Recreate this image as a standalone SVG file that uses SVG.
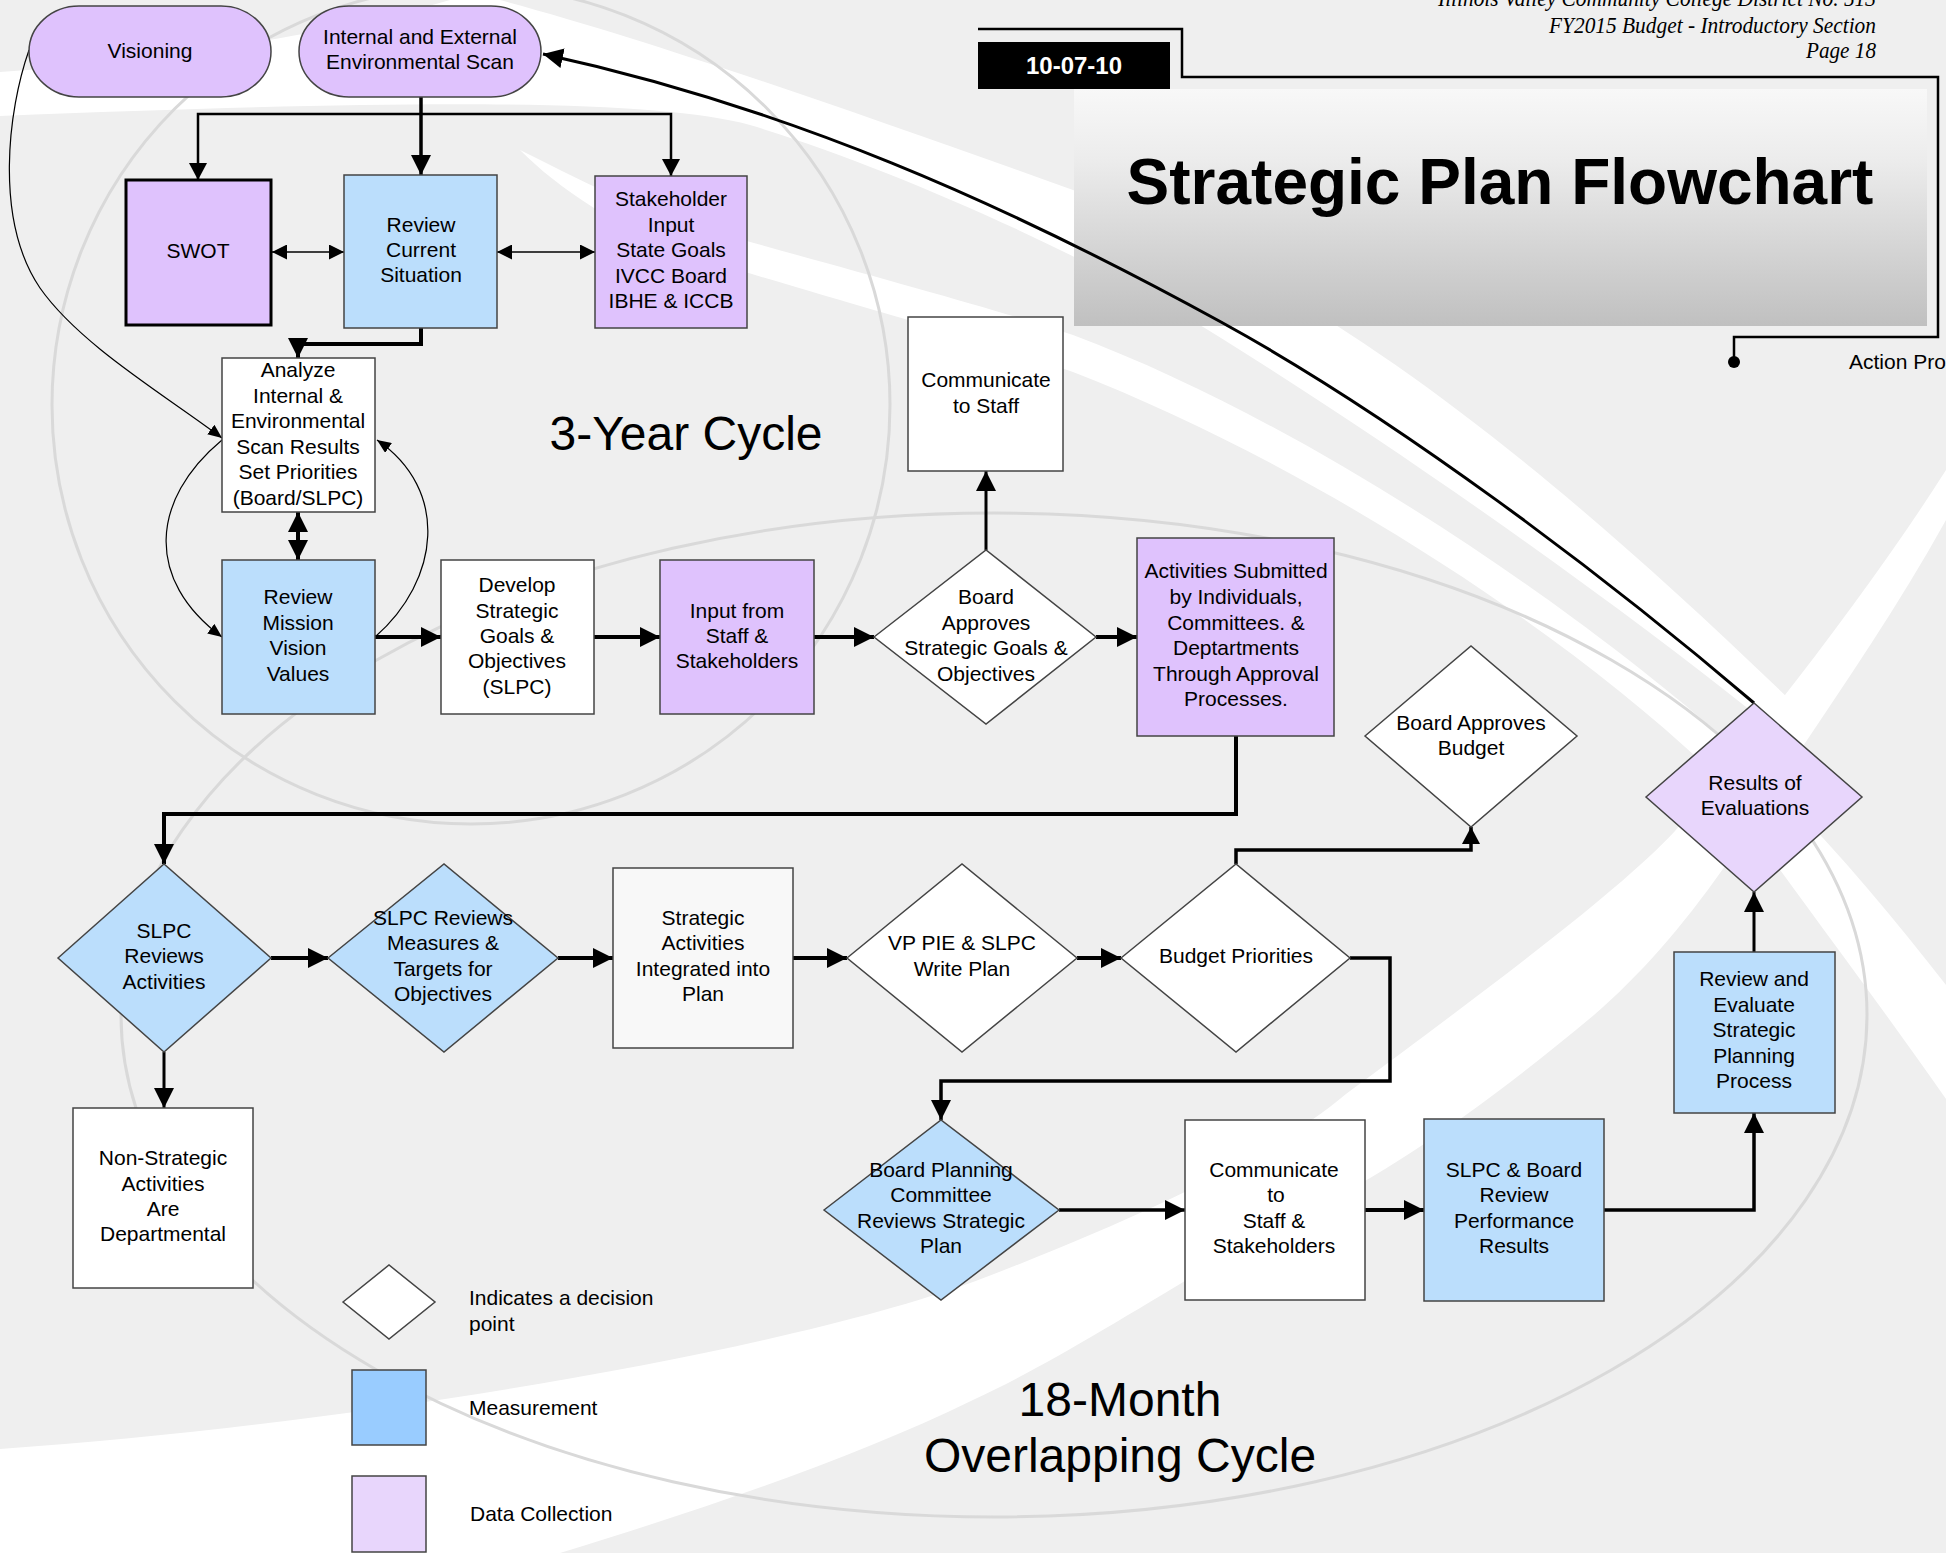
<svg xmlns="http://www.w3.org/2000/svg" width="1946" height="1553" viewBox="0 0 1946 1553">
<defs>
<style>
.t{font-family:"Liberation Sans",Arial,sans-serif;font-size:21px;text-anchor:middle;fill:#000}
.lg{font-family:"Liberation Sans",Arial,sans-serif;font-size:21px;fill:#000}
.big{font-family:"Liberation Sans",Arial,sans-serif;font-size:48px;text-anchor:middle;fill:#000}
.hdr{font-family:"Liberation Serif","Times New Roman",serif;font-style:italic;font-size:23px;text-anchor:end;fill:#000}
.box{stroke:#444;stroke-width:1.5}
.pur{fill:#dfc2fd}
.blu{fill:#bbdefc}
.wht{fill:#fff}
.lpur{fill:#e8d6fc}
.c{fill:none;stroke:#000;stroke-linejoin:miter}
.ring{fill:none;stroke:#d9d9d9;stroke-width:3}
</style>
<linearGradient id="tg" x1="0" y1="0" x2="0" y2="1">
<stop offset="0" stop-color="#f8f8f8"/>
<stop offset="0.3" stop-color="#ececec"/>
<stop offset="1" stop-color="#c0c0c0"/>
</linearGradient>
<marker id="aL" markerUnits="userSpaceOnUse" markerWidth="20" markerHeight="20" refX="20" refY="10" orient="auto-start-reverse"><path d="M0,0 L20,10 L0,20 z" fill="#000"/></marker>
<marker id="aM" markerUnits="userSpaceOnUse" markerWidth="17" markerHeight="18" refX="17" refY="9" orient="auto-start-reverse"><path d="M0,0 L17,9 L0,18 z" fill="#000"/></marker>
<marker id="aS" markerUnits="userSpaceOnUse" markerWidth="15" markerHeight="15" refX="15" refY="7.5" orient="auto-start-reverse"><path d="M0,0 L15,7.5 L0,15 z" fill="#000"/></marker>
<marker id="aC" markerUnits="userSpaceOnUse" markerWidth="14" markerHeight="12" refX="14" refY="6" orient="auto-start-reverse"><path d="M0,0 L14,6 L0,12 z" fill="#000"/></marker>
</defs>

<g id="background">
<rect x="0" y="0" width="1946" height="1553" fill="#efefef"/>
<path fill="#fff" d="M0,72 C150,62 330,35 450,0 L500,0 C650,40 850,110 1073,190 C1300,280 1500,420 1790,700 L1765,722 C1600,590 1400,450 1221,338 C1100,262 900,170 750,125 C650,98 400,100 0,116 Z"/>
<path fill="#fff" d="M520,150 C600,190 650,215 700,228 C850,270 1000,310 1073,335 C1300,420 1550,590 1705,722 C1800,805 1880,900 1946,985 L1946,1099 C1870,990 1800,900 1705,765 C1550,620 1300,460 1073,372 C950,330 800,290 700,258 C620,230 560,190 520,150 Z"/>
<path fill="#fff" d="M0,1449 C400,1420 800,1345 973,1282 C1150,1215 1280,1150 1346,1094 C1500,980 1620,890 1675,831 C1760,730 1870,590 1946,470 L1946,520 C1880,640 1790,760 1725,866 C1680,930 1640,975 1594,1015 C1480,1110 1380,1180 1283,1223 C1150,1300 1060,1360 973,1400 C850,1460 700,1510 560,1553 L0,1553 Z"/>
<circle class="ring" cx="471" cy="405" r="419"/>
<ellipse class="ring" cx="994" cy="1015" rx="873" ry="502"/>
</g>

<g id="header">
<text class="hdr" x="1876" y="6" textLength="438" lengthAdjust="spacingAndGlyphs">Illinois Valley Community College District No. 513</text>
<text class="hdr" x="1876" y="33" textLength="327" lengthAdjust="spacingAndGlyphs">FY2015 Budget - Introductory Section</text>
<text class="hdr" x="1876" y="58" textLength="70" lengthAdjust="spacingAndGlyphs">Page 18</text>
<path d="M978,29 H1182 V77 H1938 V337 H1734 V362" fill="none" stroke="#000" stroke-width="2.5"/>
<circle cx="1734" cy="362" r="6" fill="#000"/>
<rect x="978" y="42" width="192" height="47" fill="#000"/>
<text x="1074" y="74" font-family="Liberation Sans,Arial,sans-serif" font-weight="bold" font-size="24" text-anchor="middle" fill="#fff">10-07-10</text>
<rect x="1074" y="89" width="853" height="237" fill="url(#tg)"/>
<text x="1500" y="204" font-family="Liberation Sans,Arial,sans-serif" font-weight="bold" font-size="64" text-anchor="middle" fill="#000">Strategic Plan Flowchart</text>
<text class="lg" x="1849" y="369">Action Pro</text>
</g>

<g id="labels">
<text class="big" x="686" y="450">3-Year Cycle</text>
<text class="big" x="1120" y="1416">18-Month</text>
<text class="big" x="1120" y="1472">Overlapping Cycle</text>
</g>

<g id="connectors">
<path class="c" stroke-width="3.5" d="M421,97 V175" marker-end="url(#aL)"/>
<path class="c" stroke-width="2.5" d="M198,180 V114 H671 V176" marker-start="url(#aM)" marker-end="url(#aM)"/>
<path class="c" stroke-width="1.5" d="M272,252 H344" marker-start="url(#aS)" marker-end="url(#aS)"/>
<path class="c" stroke-width="1.5" d="M497,252 H595" marker-start="url(#aS)" marker-end="url(#aS)"/>
<path class="c" stroke-width="4" d="M421,328 V344 H298 V358" marker-end="url(#aL)"/>
<path class="c" stroke-width="4" d="M298,512 V560" marker-start="url(#aL)" marker-end="url(#aL)"/>
<path class="c" stroke-width="1.2" d="M29,50 C8,110 -6,220 40,288 C80,345 165,395 222,438" marker-end="url(#aC)"/>
<path class="c" stroke-width="1.2" d="M222,440 C150,500 145,580 222,637" marker-end="url(#aC)"/>
<path class="c" stroke-width="1.2" d="M375,637 C440,580 450,490 377,440" marker-end="url(#aC)"/>
<path class="c" stroke-width="4" d="M375,637 H441" marker-end="url(#aL)"/>
<path class="c" stroke-width="4" d="M594,637 H660" marker-end="url(#aL)"/>
<path class="c" stroke-width="4" d="M814,637 H874" marker-end="url(#aL)"/>
<path class="c" stroke-width="4" d="M1096,637 H1137" marker-end="url(#aL)"/>
<path class="c" stroke-width="3" d="M986,550 V471" marker-end="url(#aL)"/>
<path class="c" stroke-width="4" d="M1236,736 V814 H164 V864" marker-end="url(#aL)"/>
<path class="c" stroke-width="4" d="M271,958 H328" marker-end="url(#aL)"/>
<path class="c" stroke-width="4" d="M558,958 H613" marker-end="url(#aL)"/>
<path class="c" stroke-width="4" d="M793,958 H847" marker-end="url(#aL)"/>
<path class="c" stroke-width="4" d="M1077,958 H1121" marker-end="url(#aL)"/>
<path class="c" stroke-width="3" d="M164,1052 V1108" marker-end="url(#aL)"/>
<path class="c" stroke-width="3.5" d="M1236,864 V850 H1471 V827" marker-end="url(#aM)"/>
<path class="c" stroke-width="3.5" d="M1350,958 H1390 V1081 H941 V1120" marker-end="url(#aL)"/>
<path class="c" stroke-width="3.5" d="M1059,1210 H1185" marker-end="url(#aL)"/>
<path class="c" stroke-width="4" d="M1365,1210 H1424" marker-end="url(#aL)"/>
<path class="c" stroke-width="3.5" d="M1604,1210 H1754 V1113" marker-end="url(#aL)"/>
<path class="c" stroke-width="3" d="M1754,952 V892" marker-end="url(#aL)"/>
<path class="c" stroke-width="3" d="M1754,703 C1603,574 1396,418 1221,322 C1002,202 787,107 543,54" marker-end="url(#aL)"/>
</g>

<g id="n_vis"><rect class="box pur" x="29" y="6" width="242" height="91" rx="50" ry="45.5"/><text class="t" x="150" y="58">Visioning</text></g>
<g id="n_scan"><rect class="box pur" x="299" y="6" width="242" height="91" rx="50" ry="45.5"/><text class="t" x="420" y="44">Internal and External</text><text class="t" x="420" y="69">Environmental Scan</text></g>
<g id="n_swot"><rect class="pur" x="126" y="180" width="145" height="145" stroke="#000" stroke-width="3"/><text class="t" x="198" y="258">SWOT</text></g>
<g id="n_rcs"><rect class="box blu" x="344" y="175" width="153" height="153"/><text class="t" x="421" y="232">Review</text><text class="t" x="421" y="257">Current</text><text class="t" x="421" y="282">Situation</text></g>
<g id="n_stake"><rect class="box pur" x="595" y="176" width="152" height="152"/><text class="t" x="671" y="206">Stakeholder</text><text class="t" x="671" y="232">Input</text><text class="t" x="671" y="257">State Goals</text><text class="t" x="671" y="283">IVCC Board</text><text class="t" x="671" y="308">IBHE &amp; ICCB</text></g>
<g id="n_analyze"><rect class="box wht" x="222" y="358" width="153" height="154"/><text class="t" x="298" y="377">Analyze</text><text class="t" x="298" y="403">Internal &amp;</text><text class="t" x="298" y="428">Environmental</text><text class="t" x="298" y="454">Scan Results</text><text class="t" x="298" y="479">Set Priorities</text><text class="t" x="298" y="505">(Board/SLPC)</text></g>
<g id="n_rmvv"><rect class="box blu" x="222" y="560" width="153" height="154"/><text class="t" x="298" y="604">Review</text><text class="t" x="298" y="630">Mission</text><text class="t" x="298" y="655">Vision</text><text class="t" x="298" y="681">Values</text></g>
<g id="n_develop"><rect class="box wht" x="441" y="560" width="153" height="154"/><text class="t" x="517" y="592">Develop</text><text class="t" x="517" y="618">Strategic</text><text class="t" x="517" y="643">Goals &amp;</text><text class="t" x="517" y="668">Objectives</text><text class="t" x="517" y="694">(SLPC)</text></g>
<g id="n_input"><rect class="box pur" x="660" y="560" width="154" height="154"/><text class="t" x="737" y="618">Input from</text><text class="t" x="737" y="643">Staff &amp;</text><text class="t" x="737" y="668">Stakeholders</text></g>
<g id="n_board"><polygon class="box wht" points="874,637 986,550 1096,637 986,724"/><text class="t" x="986" y="604">Board</text><text class="t" x="986" y="630">Approves</text><text class="t" x="986" y="655">Strategic Goals &amp;</text><text class="t" x="986" y="681">Objectives</text></g>
<g id="n_comm1"><rect class="box wht" x="908" y="317" width="155" height="154"/><text class="t" x="986" y="387">Communicate</text><text class="t" x="986" y="413">to Staff</text></g>
<g id="n_acts"><rect class="box pur" x="1137" y="538" width="197" height="198"/><text class="t" x="1236" y="578">Activities Submitted</text><text class="t" x="1236" y="604">by Individuals,</text><text class="t" x="1236" y="630">Committees. &amp;</text><text class="t" x="1236" y="655">Deptartments</text><text class="t" x="1236" y="681">Through Approval</text><text class="t" x="1236" y="706">Processes.</text></g>
<g id="n_budget"><polygon class="box wht" points="1365,736 1471,646 1577,736 1471,827"/><text class="t" x="1471" y="730">Board Approves</text><text class="t" x="1471" y="755">Budget</text></g>
<g id="n_results"><polygon class="box lpur" points="1646,797 1754,703 1862,797 1754,892"/><text class="t" x="1755" y="790">Results of</text><text class="t" x="1755" y="815">Evaluations</text></g>
<g id="n_review_eval"><rect class="box blu" x="1674" y="952" width="161" height="161"/><text class="t" x="1754" y="986">Review and</text><text class="t" x="1754" y="1012">Evaluate</text><text class="t" x="1754" y="1037">Strategic</text><text class="t" x="1754" y="1063">Planning</text><text class="t" x="1754" y="1088">Process</text></g>
<g id="n_slpc_act"><polygon class="box blu" points="58,958 164,864 271,958 164,1052"/><text class="t" x="164" y="938">SLPC</text><text class="t" x="164" y="963">Reviews</text><text class="t" x="164" y="989">Activities</text></g>
<g id="n_slpc_meas"><polygon class="box blu" points="328,958 444,864 558,958 444,1052"/><text class="t" x="443" y="925">SLPC Reviews</text><text class="t" x="443" y="950">Measures &amp;</text><text class="t" x="443" y="976">Targets for</text><text class="t" x="443" y="1001">Objectives</text></g>
<g id="n_strat"><rect class="box" fill="#f8f8f8" x="613" y="868" width="180" height="180"/><text class="t" x="703" y="925">Strategic</text><text class="t" x="703" y="950">Activities</text><text class="t" x="703" y="976">Integrated into</text><text class="t" x="703" y="1001">Plan</text></g>
<g id="n_vp"><polygon class="box wht" points="847,958 962,864 1077,958 962,1052"/><text class="t" x="962" y="950">VP PIE &amp; SLPC</text><text class="t" x="962" y="976">Write Plan</text></g>
<g id="n_bp"><polygon class="box wht" points="1121,958 1236,864 1350,958 1236,1052"/><text class="t" x="1236" y="963">Budget Priorities</text></g>
<g id="n_nonstrat"><rect class="box wht" x="73" y="1108" width="180" height="180"/><text class="t" x="163" y="1165">Non-Strategic</text><text class="t" x="163" y="1191">Activities</text><text class="t" x="163" y="1216">Are</text><text class="t" x="163" y="1241">Departmental</text></g>
<g id="n_bpc"><polygon class="box blu" points="824,1210 941,1120 1059,1210 941,1300"/><text class="t" x="941" y="1177">Board Planning</text><text class="t" x="941" y="1202">Committee</text><text class="t" x="941" y="1228">Reviews Strategic</text><text class="t" x="941" y="1253">Plan</text></g>
<g id="n_comm2"><rect class="box wht" x="1185" y="1120" width="180" height="180"/><text class="t" x="1274" y="1177">Communicate</text><text class="t" x="1276" y="1202">to</text><text class="t" x="1274" y="1228">Staff &amp;</text><text class="t" x="1274" y="1253">Stakeholders</text></g>
<g id="n_slpcboard"><rect class="box blu" x="1424" y="1119" width="180" height="182"/><text class="t" x="1514" y="1177">SLPC &amp; Board</text><text class="t" x="1514" y="1202">Review</text><text class="t" x="1514" y="1228">Performance</text><text class="t" x="1514" y="1253">Results</text></g>

<g id="legend">
<polygon class="box wht" points="343,1302 389,1265 435,1302 389,1339"/>
<text class="lg" x="469" y="1305">Indicates a decision</text>
<text class="lg" x="469" y="1331">point</text>
<rect class="box" fill="#99ccff" x="352" y="1370" width="74" height="75"/>
<text class="lg" x="469" y="1415">Measurement</text>
<rect class="box lpur" x="352" y="1476" width="74" height="76"/>
<text class="lg" x="470" y="1521">Data Collection</text>
</g>
</svg>
